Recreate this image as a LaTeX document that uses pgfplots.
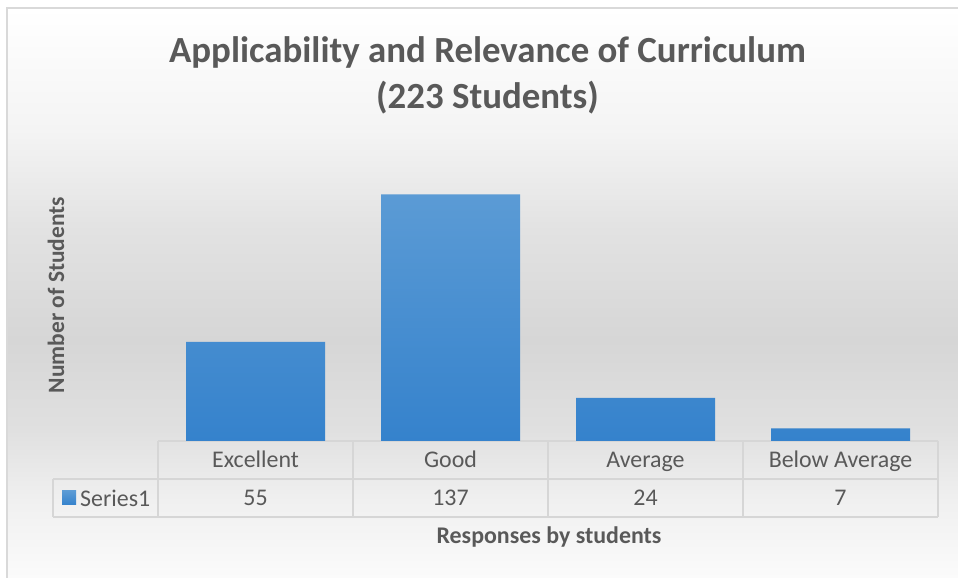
\documentclass[border=0pt]{standalone}
\usepackage{pgfplots}
\pgfplotsset{compat=1.18}
\usepackage{pgfplotstable}
\usepackage{fontspec}
\setmainfont{Carlito}
\definecolor{txt}{HTML}{595959}
\definecolor{gridc}{HTML}{D6D6D6}
\definecolor{bordc}{HTML}{D9D9D9}
\definecolor{bartop}{HTML}{5B9BD5}
\definecolor{barbot}{HTML}{3582CC}
\definecolor{bgA}{HTML}{FBFBFB}
\definecolor{bgB}{HTML}{F0F0F0}
\definecolor{bgC}{HTML}{E0E0E0}
\definecolor{bgD}{HTML}{D6D6D6}
\definecolor{bgE}{HTML}{E2E2E2}
\definecolor{bgF}{HTML}{F4F4F4}
\definecolor{bgG}{HTML}{FFFFFF}
\pgfdeclareverticalshading{bgshade}{100bp}{color(0bp)=(bgA); color(25bp)=(bgA); color(31.8bp)=(bgB); color(38bp)=(bgC); color(45.9bp)=(bgD); color(55.5bp)=(bgE); color(64.3bp)=(bgF); color(75bp)=(bgG); color(100bp)=(bgG)}

\pgfplotstableread{
x count
1 55
2 137
3 24
4 7
}\datatable

\begin{document}
\begin{tikzpicture}[x=1bp,y=1bp]
\path[use as bounding box, fill=white] (0,0) rectangle (958,578);
\shade[shading=bgshade] (7,0) rectangle (958,570);
\draw[bordc, line width=1.5bp] (7,0) -- (7,570) -- (958,570);

% title
\node[align=center, text=txt, font=\bfseries\fontsize{37}{46}\selectfont] at (487.5,503) {Applicability and Relevance of Curriculum\\(223 Students)};

% y label
\node[rotate=90, text=txt, font=\bfseries\fontsize{23.5}{28}\selectfont] at (56,283) {Number of Students};
% x label
\node[text=txt, font=\bfseries\fontsize{24}{28}\selectfont] at (549,41) {Responses by students};

% data table grid
\begin{scope}[gridc, line width=1.5bp]
\draw (158,137) -- (938,137);
\draw (53,99) -- (938,99);
\draw (53,61) -- (938,61);
\draw (53,99) -- (53,61);
\foreach \xx in {158,353,548,743,938} { \draw (\xx,137) -- (\xx,61); }
\end{scope}
\shade[top color=bartop, bottom color=barbot] (62,73) rectangle (76,87);
\node[anchor=west, inner sep=0pt, text=txt, font=\fontsize{24}{28}\selectfont] at (80,80) {Series1};

\begin{axis}[
  at={(158bp,137bp)}, anchor=south west,
  width=780bp, height=288bp, scale only axis,
  xmin=0.5, xmax=4.5, ymin=0, ymax=160,
  axis line style={draw=none},
  ytick=\empty,
  xtick=data,
  xticklabels={Excellent,Good,Average,Below Average},
  major tick length=0pt,
  xticklabel style={anchor=base, yshift=-27bp, font=\fontsize{24}{28}\selectfont, text=txt},
  /pgf/number format/assume math mode=true,
  clip=false,
]
\addplot[ybar, bar width=139bp, draw=none, top color=bartop, bottom color=barbot] table[x=x, y=count]{\datatable};
\addplot[draw=none, mark=none, nodes near coords, point meta=explicit,
  nodes near coords style={anchor=base, yshift=-64.5bp, font=\fontsize{24}{28}\selectfont, text=txt}]
  table[x=x, y expr=0, meta=count]{\datatable};
\end{axis}
\end{tikzpicture}
\end{document}
